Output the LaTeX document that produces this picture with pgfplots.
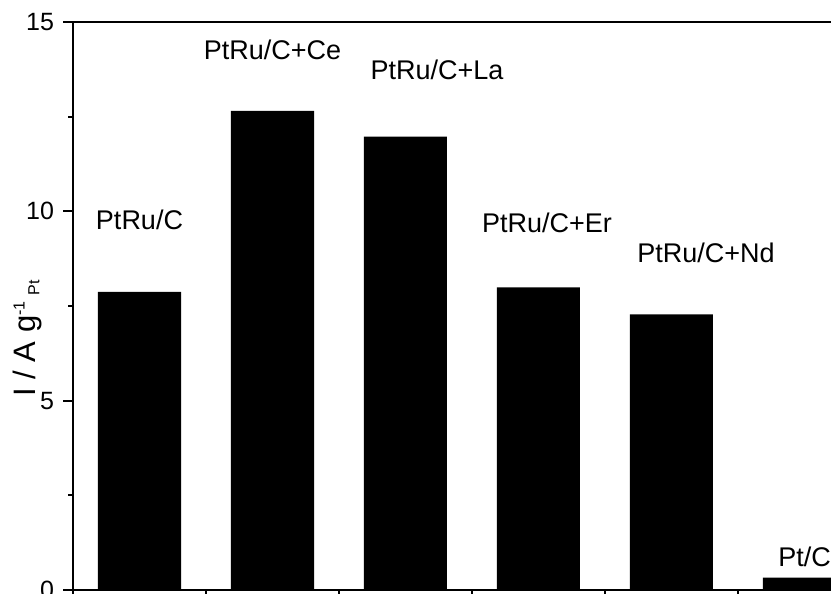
\documentclass[border=0pt]{standalone}
\usepackage{pgfplots}
\pgfplotsset{compat=1.18}
\usepackage{fontspec}
\setmainfont{Liberation Sans}
\begin{document}
\begin{tikzpicture}
\begin{axis}[
    at={(0,0)}, anchor=south west,
    scale only axis,
    width=399pt, height=284pt,
    xmin=0.5, xmax=6.5,
    ymin=0, ymax=15,
    xtick={0.5,1.5,...,6.5},
    xticklabels={},
    ytick={0,5,10,15},
    minor ytick={2.5,7.5,12.5},
    xtick pos=bottom, ytick pos=left,
    tick align=outside,
    major tick length=5pt,
    minor tick length=2.5pt,
    axis line style={line width=1pt},
    every tick/.style={black, line width=1pt},
    tick label style={font=\fontsize{12.5}{15}\selectfont},
    yticklabel style={xshift=-1pt},
    /pgf/number format/assume math mode=true,
    every axis y label/.style={at={(axis description cs:0,0.444)}, xshift=-19pt, rotate=90, anchor=base, font=\fontsize{15.5}{18}\selectfont},
    ylabel={I / A g\textsuperscript{\footnotesize -1}\,\textsubscript{\footnotesize Pt}},
    clip=false,
]
\addplot[ybar, bar width=41.5pt, fill=black, draw=none]
    coordinates {(1,7.87)(2,12.65)(3,11.97)(4,7.99)(5,7.28)(6,0.33)};
\begin{scope}[every node/.style={font=\fontsize{13.5}{16}\selectfont, inner sep=0pt, anchor=base}]
\node at (axis cs:1.0,9.51) {PtRu/C};
\node at (axis cs:2.0,14.02) {PtRu/C+Ce};
\node at (axis cs:3.237,13.49) {PtRu/C+La};
\node at (axis cs:4.064,9.45) {PtRu/C+Er};
\node at (axis cs:5.259,8.66) {PtRu/C+Nd};
\node[anchor=base west] at (axis cs:5.80,0.61) {Pt/C};
\end{scope}
\end{axis}
\pgfresetboundingbox
\path[use as bounding box] (-36.5pt,-2pt) rectangle (379pt,295pt);
\end{tikzpicture}
\end{document}
